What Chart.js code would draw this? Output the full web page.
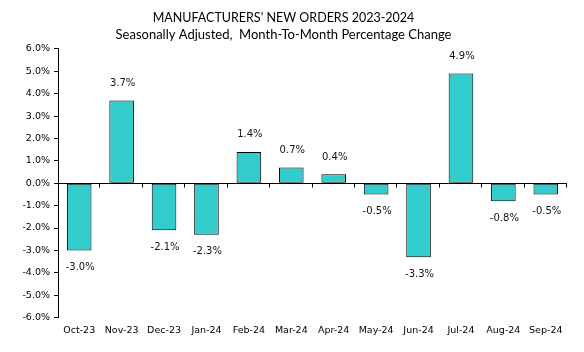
<!DOCTYPE html>
<html>
<head>
<meta charset="utf-8">
<script src="https://cdn.jsdelivr.net/npm/chart.js@4/dist/chart.umd.min.js"></script>
<style>
  html, body { margin: 0; padding: 0; background: #fff; }
  #wrap { width: 584px; height: 352px; position: relative; }
</style>
</head>
<body>
<div id="wrap"><canvas id="chart"></canvas></div>
<script>
// data
const months = ['Oct-23', 'Nov-23', 'Dec-23', 'Jan-24', 'Feb-24', 'Mar-24',
                'Apr-24', 'May-24', 'Jun-24', 'Jul-24', 'Aug-24', 'Sep-24'];
const pctChange = [-3.0, 3.7, -2.1, -2.3, 1.4, 0.7, 0.4, -0.5, -3.3, 4.9, -0.8, -0.5];
const yTicks = [-6, -5, -4, -3, -2, -1, 0, 1, 2, 3, 4, 5, 6];
const titleText = "MANUFACTURERS' NEW ORDERS 2023-2024";
const subtitleText = 'Seasonally Adjusted,  Month-To-Month Percentage Change';

const tickFont = { family: 'DejaVu Sans', size: 9.5 };

// zero line with outside tick marks at category boundaries
const zeroAxis = {
  id: 'zeroAxis',
  afterDatasetsDraw(chart) {
    const { ctx, chartArea, scales } = chart;
    const y0 = Math.round(scales.y.getPixelForValue(0)) + 0.5;
    const x = scales.x;
    ctx.save();
    ctx.strokeStyle = '#000';
    ctx.lineWidth = 1;
    ctx.beginPath();
    ctx.moveTo(chartArea.left, y0);
    ctx.lineTo(chartArea.right, y0);
    const step = (x.right - x.left) / months.length;
    for (let i = 1; i <= months.length; i++) {
      const px = Math.round(x.left + step * i) - 0.5;
      ctx.moveTo(px, y0);
      ctx.lineTo(px, y0 + 4);
    }
    ctx.stroke();
    ctx.restore();
  }
};

// value labels above / below bars
const valueLabels = {
  id: 'valueLabels',
  afterDatasetsDraw(chart) {
    const { ctx } = chart;
    const meta = chart.getDatasetMeta(0);
    ctx.save();
    ctx.font = '10px "DejaVu Sans"';
    ctx.fillStyle = '#111';
    ctx.textAlign = 'center';
    ctx.textBaseline = 'middle';
    meta.data.forEach((bar, i) => {
      const v = pctChange[i];
      const y = v >= 0 ? bar.y - 17 : bar.y + 17;
      ctx.fillText(v.toFixed(1) + '%', bar.x + 1, y);
    });
    ctx.restore();
  }
};

new Chart(document.getElementById('chart'), {
  type: 'bar',
  data: {
    labels: months,
    datasets: [{
      data: pctChange,
      backgroundColor: '#33CCCC',
      borderColor: '#000',
      borderWidth: 1,
      borderSkipped: false,
      categoryPercentage: 0.58,
      barPercentage: 1.0
    }]
  },
  options: {
    responsive: true,
    maintainAspectRatio: false,
    animation: false,
    layout: { padding: { left: 0, right: 17, top: 0, bottom: 9 } },
    plugins: {
      legend: { display: false },
      tooltip: { enabled: false },
      title: {
        display: true,
        text: titleText,
        color: '#000',
        font: { family: 'Lato', size: 12.5, weight: 'normal', lineHeight: 1.25 },
        padding: { top: 10.5, bottom: 0.5 }
      },
      subtitle: {
        display: true,
        text: subtitleText,
        color: '#000',
        font: { family: 'Lato', size: 13, weight: 'normal', lineHeight: 1.25 },
        padding: { top: 0, bottom: 6 }
      }
    },
    scales: {
      x: {
        grid: { display: false, drawTicks: false, tickLength: 0 },
        border: { display: false },
        ticks: { color: '#000', font: tickFont, padding: 7, maxRotation: 0 }
      },
      y: {
        min: -6,
        max: 6,
        afterBuildTicks(scale) { scale.ticks = yTicks.map(v => ({ value: v })); },
        afterFit(scale) { scale.width = 58; },
        grid: { drawOnChartArea: false, color: '#000', tickLength: 4 },
        border: { display: true, color: '#000', width: 1 },
        ticks: {
          color: '#000',
          font: tickFont,
          padding: 4,
          callback: v => v.toFixed(1) + '%'
        }
      }
    }
  },
  plugins: [zeroAxis, valueLabels]
});
</script>
</body>
</html>
